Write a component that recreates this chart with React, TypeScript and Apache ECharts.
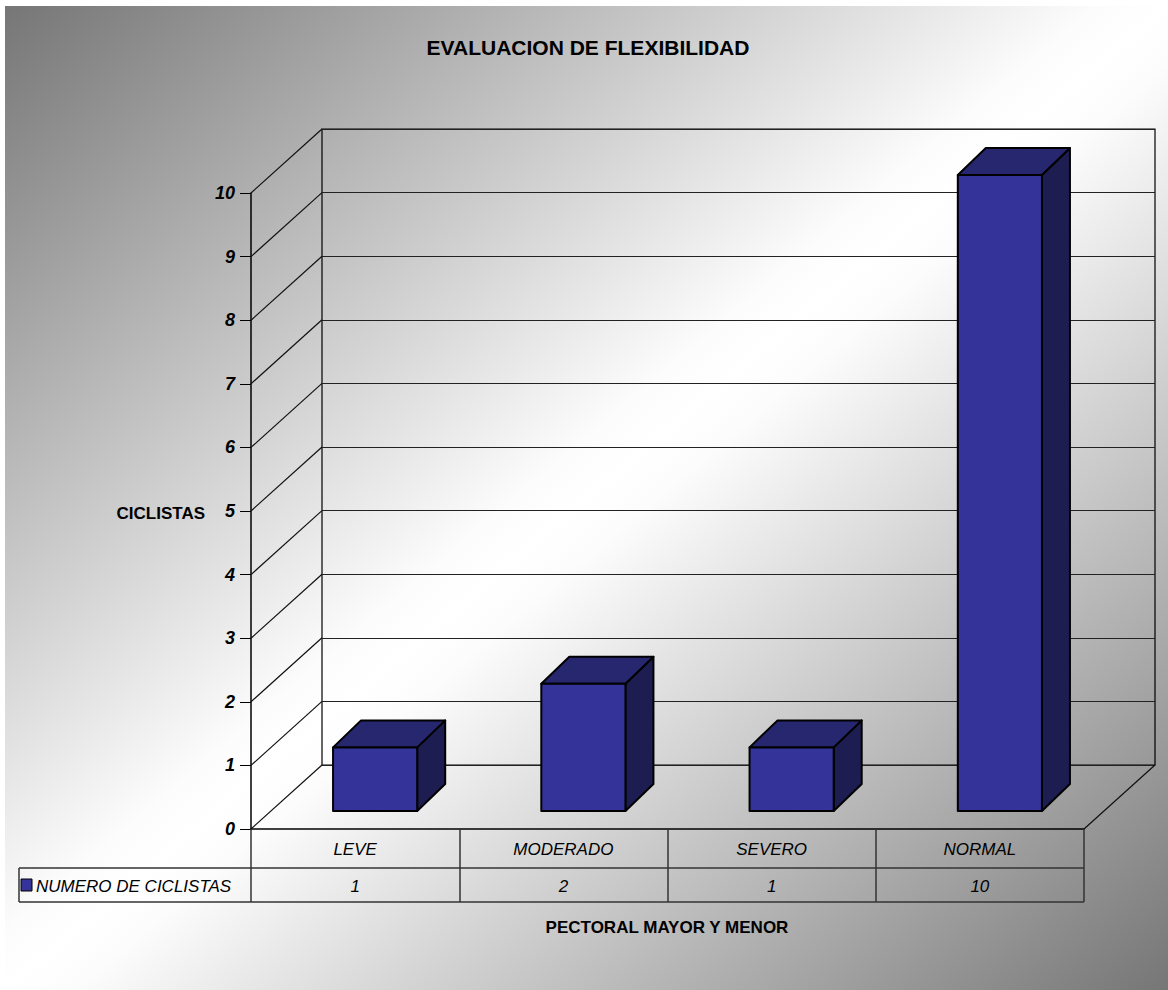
import React, { useEffect, useRef } from 'react';
import * as echarts from 'echarts';

const titleText = 'EVALUACION DE FLEXIBILIDAD';
const yTitle = 'CICLISTAS';
const xTitle = 'PECTORAL MAYOR Y MENOR';
const seriesName = 'NUMERO DE CICLISTAS';
const categories = ['LEVE', 'MODERADO', 'SEVERO', 'NORMAL'];
const values = [1, 2, 1, 10];
const yTicks = [0, 1, 2, 3, 4, 5, 6, 7, 8, 9, 10];

const FONT = '"Liberation Sans", Arial, sans-serif';
const DX = 71;
const DY = -64;

export default function App() {
  const ref = useRef<HTMLDivElement>(null);
  useEffect(() => {
    if (!ref.current) return;
    const chart = echarts.init(ref.current, null, { renderer: 'svg' });
    const option: any = {
      animation: false,
      backgroundColor: '#ffffff',
      graphic: [
        {
          type: 'rect', z: -100, silent: true,
          shape: { x: 5, y: 6, width: 1163, height: 984 },
          style: {
            fill: new echarts.graphic.LinearGradient(0, 0, 1, 1, [
              { offset: 0, color: '#767676' },
              { offset: 0.47, color: '#fcfcfc' },
              { offset: 0.5, color: '#ffffff' },
              { offset: 0.53, color: '#fcfcfc' },
              { offset: 1, color: '#767676' },
            ]),
          },
        },
        {
          type: 'text', z: 100,
          style: { text: titleText, x: 588, y: 47, font: `bold 21px ${FONT}`, fill: '#000', textAlign: 'center', textVerticalAlign: 'middle', align: 'center', verticalAlign: 'middle' },
        },
        {
          type: 'text', z: 100,
          style: { text: yTitle, x: 205, y: 513, font: `bold 17px ${FONT}`, fill: '#000', textAlign: 'right', textVerticalAlign: 'middle', align: 'right', verticalAlign: 'middle' },
        },
        {
          type: 'text', z: 100,
          style: { text: xTitle, x: 667, y: 927, font: `bold 17px ${FONT}`, fill: '#000', textAlign: 'center', textVerticalAlign: 'middle', align: 'center', verticalAlign: 'middle' },
        },
        { type: 'line', z: 100, shape: { x1: 19, y1: 868, x2: 1084, y2: 868 }, style: { stroke: '#333', lineWidth: 1.5 } },
        { type: 'line', z: 100, shape: { x1: 19, y1: 902, x2: 1084, y2: 902 }, style: { stroke: '#333', lineWidth: 1.5 } },
        { type: 'line', z: 100, shape: { x1: 19, y1: 868, x2: 19, y2: 902 }, style: { stroke: '#333', lineWidth: 1.5 } },
        { type: 'rect', z: 100, shape: { x: 21, y: 879, width: 11, height: 12 }, style: { fill: '#333399', stroke: '#000', lineWidth: 1 } },
        {
          type: 'text', z: 100,
          style: { text: seriesName, x: 36, y: 886, font: `italic 17px ${FONT}`, fill: '#000', textAlign: 'left', textVerticalAlign: 'middle', align: 'left', verticalAlign: 'middle' },
        },
      ],
      grid: [
        { left: 251, top: 193, width: 833, height: 636, show: false },
        { left: 322, top: 129, width: 833, height: 636, show: true, borderColor: '#000', borderWidth: 1.2, backgroundColor: 'transparent' },
      ],
      xAxis: [
        {
          gridIndex: 0, type: 'category', data: categories,
          axisLine: { show: true, lineStyle: { color: '#000', width: 1.5 } },
          axisTick: { show: true, length: 73, alignWithLabel: false, interval: 0, lineStyle: { color: '#333', width: 1.5 } },
          axisLabel: { interval: 0, margin: 20, verticalAlign: 'middle', fontSize: 17, fontStyle: 'italic', fontFamily: FONT, color: '#000' },
          splitLine: { show: false },
        },
        { gridIndex: 1, type: 'category', data: categories, show: false },
      ],
      yAxis: [
        {
          gridIndex: 0, type: 'value', min: 0, max: 10, interval: 1,
          axisLine: { show: true, lineStyle: { color: '#000', width: 1.5 } },
          axisTick: { show: true, length: 11, inside: false, lineStyle: { color: '#000', width: 1 } },
          axisLabel: { margin: 16, fontSize: 18, fontWeight: 'bold', fontStyle: 'italic', fontFamily: FONT, color: '#000' },
          splitLine: { show: false },
        },
        {
          gridIndex: 1, type: 'value', min: 0, max: 10, interval: 1,
          axisLine: { show: false }, axisTick: { show: false }, axisLabel: { show: false },
          splitLine: { show: true, lineStyle: { color: '#222', width: 1 } },
        },
      ],
      series: [
        {
          type: 'custom', name: 'walls', xAxisIndex: 0, yAxisIndex: 0, z: 2, silent: true,
          data: yTicks.map((v) => [0, v]),
          renderItem: (params: any, api: any) => {
            const v = api.value(1);
            const band = api.size([1, 0])[0];
            const p = api.coord([0, v]);
            const left = p[0] - band / 2;
            const y = p[1];
            const children: any[] = [
              { type: 'line', shape: { x1: left, y1: y, x2: left + DX, y2: y + DY }, style: { stroke: '#111', lineWidth: 1.2 } },
            ];
            if (v === 0) {
              const right = api.coord([categories.length - 1, 0])[0] + band / 2;
              children.push({ type: 'line', shape: { x1: right, y1: y, x2: right + DX, y2: y + DY }, style: { stroke: '#111', lineWidth: 1.2 } });
            }
            return { type: 'group', children };
          },
        },
        {
          type: 'custom', name: seriesName, xAxisIndex: 0, yAxisIndex: 0, z: 5,
          data: values.map((v, i) => [i, v]),
          renderItem: (params: any, api: any) => {
            const i = api.value(0);
            const v = api.value(1);
            const base = api.coord([i, 0]);
            const top = api.coord([i, v]);
            const band = api.size([1, 0])[0];
            const w = band * 0.404;
            const fx = base[0] - w / 2 + 20;
            const by = base[1] - 18;
            const ty = top[1] - 18;
            const bdx = 28;
            const bdy = -27;
            const stroke = { stroke: '#000', lineWidth: 2, lineJoin: 'round' };
            return {
              type: 'group',
              children: [
                { type: 'polygon', shape: { points: [[fx + w, ty], [fx + w + bdx, ty + bdy], [fx + w + bdx, by + bdy], [fx + w, by]] }, style: { fill: '#1d1d52', ...stroke } },
                { type: 'polygon', shape: { points: [[fx, ty], [fx + bdx, ty + bdy], [fx + w + bdx, ty + bdy], [fx + w, ty]] }, style: { fill: '#27276f', ...stroke } },
                { type: 'polygon', shape: { points: [[fx, ty], [fx + w, ty], [fx + w, by], [fx, by]] }, style: { fill: '#333399', ...stroke } },
                { type: 'text', style: { text: String(v), x: base[0], y: base[1] + 57, font: `italic 17px ${FONT}`, fill: '#000', textAlign: 'center', textVerticalAlign: 'middle', align: 'center', verticalAlign: 'middle' } },
              ],
            };
          },
        },
      ],
    };
    chart.setOption(option);
    return () => chart.dispose();
  }, []);
  return <div ref={ref} style={{ position: 'absolute', left: 0, top: 0, width: 1168, height: 990 }} />;
}
